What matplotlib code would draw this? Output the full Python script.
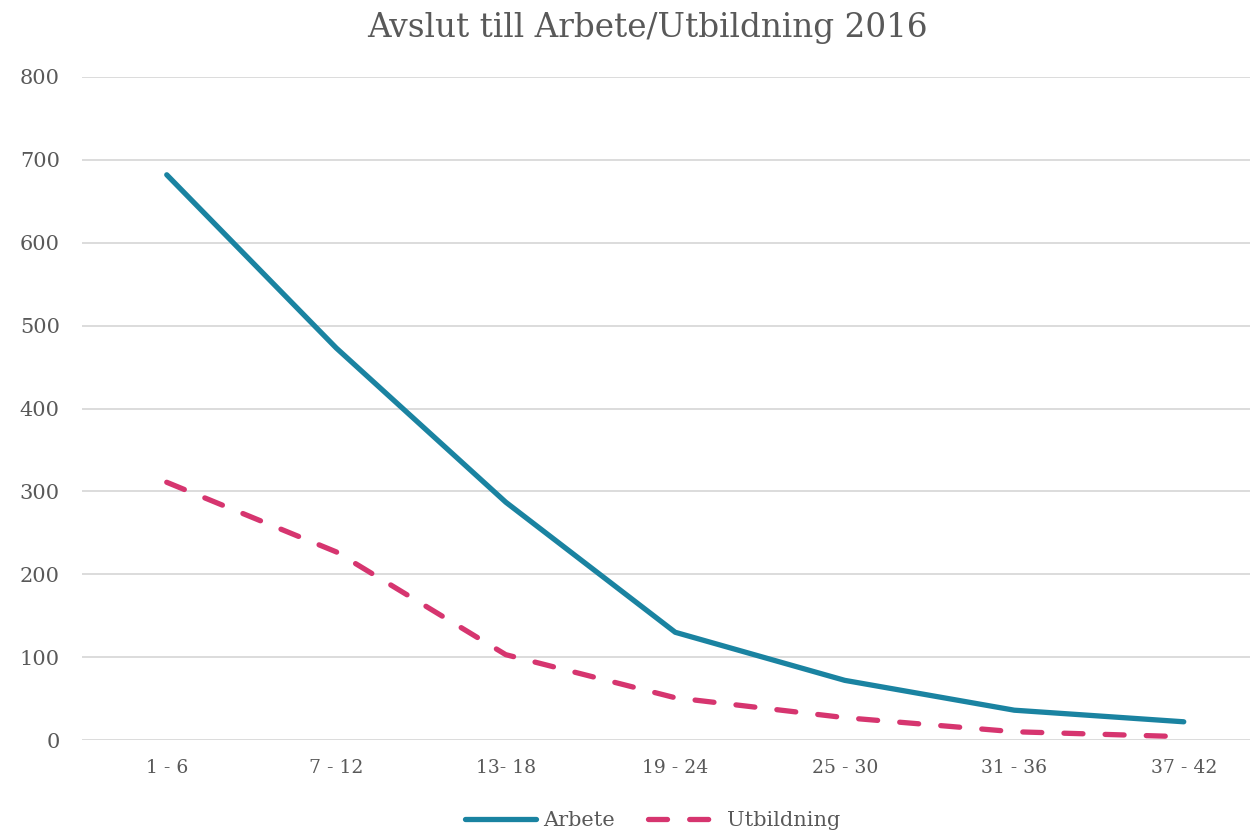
import matplotlib
matplotlib.use("Agg")
import matplotlib.pyplot as plt
from matplotlib.lines import Line2D

categories = ["1 - 6", "7 - 12", "13- 18", "19 - 24", "25 - 30", "31 - 36", "37 - 42"]
arbete = [682, 473, 287, 130, 72, 36, 22]
utbildning = [311, 227, 103, 51, 27, 10, 4]

title = "Avslut till Arbete/Utbildning 2016"
teal = "#1A83A1"
pink = "#D6356F"
grid = "#D9D9D9"
txt = "#595959"

plt.rcParams['font.family'] = ['DejaVu Serif']

fig = plt.figure(figsize=(12.5, 8.36), dpi=100)
ax = fig.add_axes([0.0656, 0.1148, 0.9492, 0.7931])
x = list(range(len(categories)))
ax.plot(x, arbete, color=teal, lw=3.8, solid_capstyle='round', solid_joinstyle='round', label="Arbete")
ax.plot(x, utbildning, color=pink, lw=3.8, dashes=(3.6, 4.2), dash_capstyle='round', label="Utbildning")

ax.set_xlim(-0.5, len(categories) - 0.5)
ax.set_ylim(0, 800)
ax.set_yticks(range(0, 801, 100))
ax.set_xticks(x)
ax.set_xticklabels(categories, fontsize=13.5)
ax.yaxis.grid(True, color=grid, lw=1.3)
ax.set_axisbelow(True)
for s in ax.spines.values():
    s.set_visible(False)
ax.tick_params(axis='both', length=0, colors=txt)
ax.tick_params(axis='y', pad=16, labelsize=15)
ax.tick_params(axis='x', pad=14)

fig.text(0.518, 0.966, title, ha='center', va='center', fontsize=23.5, color=txt)

handles = [Line2D([], [], color=teal, lw=3.8, solid_capstyle='round'),
           Line2D([], [], color=pink, lw=3.8, dashes=(3.6, 4.2), dash_capstyle='round')]
fig.legend(handles, ["Arbete", "Utbildning"], loc='center', bbox_to_anchor=(0.522, 0.018),
           ncol=2, frameon=False, fontsize=15, labelcolor=txt, handlelength=3.4,
           handletextpad=0.35, columnspacing=1.6)

fig.savefig("out.png", dpi=100)
